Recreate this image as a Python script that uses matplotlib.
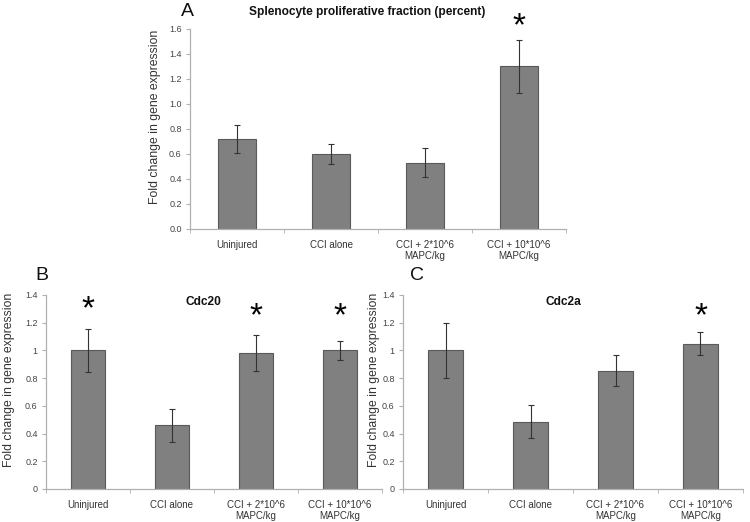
import matplotlib
matplotlib.use("Agg")
import matplotlib.pyplot as plt
from matplotlib import font_manager
import numpy as np

plt.rcParams['font.family'] = ['Liberation Sans', 'DejaVu Sans']

categories = ["Uninjured", "CCI alone", "CCI + 2*10^6\nMAPC/kg", "CCI + 10*10^6\nMAPC/kg"]

a_values = [0.72, 0.60, 0.53, 1.30]
a_errors = [0.115, 0.08, 0.115, 0.21]
a_star = [False, False, False, True]

b_values = [1.00, 0.46, 0.98, 1.00]
b_errors = [0.155, 0.12, 0.13, 0.07]
b_star = [True, False, True, True]

c_values = [1.00, 0.485, 0.855, 1.05]
c_errors = [0.20, 0.12, 0.115, 0.085]
c_star = [False, False, False, True]

a_ticks = [0.0, 0.2, 0.4, 0.6, 0.8, 1.0, 1.2, 1.4, 1.6]
a_ticklabels = ["0.0", "0.2", "0.4", "0.6", "0.8", "1.0", "1.2", "1.4", "1.6"]
bc_ticks = [0, 0.2, 0.4, 0.6, 0.8, 1.0, 1.2, 1.4]
bc_ticklabels = ["0", "0.2", "0.4", "0.6", "0.8", "1", "1.2", "1.4"]

ylabel = "Fold change in gene expression"

installed = {f.name for f in font_manager.fontManager.ttflist}
if "Liberation Sans Narrow" in installed:
    label_font = dict(family=["Liberation Sans Narrow", "Liberation Sans"], fontsize=10.5)
else:
    label_font = dict(family=["Liberation Sans", "DejaVu Sans"], fontsize=8.8)

W, H = 750, 522
fig = plt.figure(figsize=(W / 100, H / 100), dpi=100)


def px_axes(x0, x1, ytop, ybot):
    return fig.add_axes([x0 / W, 1 - ybot / H, (x1 - x0) / W, (ybot - ytop) / H])


def draw(ax, values, errors, stars, ticks, ticklabels, ymax, star_y, label_x_px, title, title_xy, letter, letter_xy):
    x = np.arange(len(categories))
    ax.bar(x, values, width=0.41, color="#808080", edgecolor="#5a5a5a", linewidth=0.8, zorder=2)
    ax.errorbar(x, values, yerr=errors, fmt="none", ecolor="#333333", elinewidth=0.8,
                capsize=2.2, capthick=0.8, zorder=3)
    for xi, s, sy in zip(x, stars, star_y):
        if s:
            ax.text(xi, sy, "*", ha="center", va="center", fontsize=24, color="black", clip_on=False)
    ax.set_xlim(-0.5, len(categories) - 0.5)
    ax.set_ylim(0, ymax)
    ax.set_yticks(ticks)
    ax.set_yticklabels(ticklabels)
    ax.set_xticks(x)
    ax.set_xticklabels(categories, fontsize=7, color="#333333", linespacing=1.05)
    ax.set_xticks(np.arange(len(categories) + 1) - 0.5, minor=True)
    ax.tick_params(axis="x", which="major", length=0, pad=8)
    ax.tick_params(axis="x", which="minor", length=3, color="#b0b0b0", direction="out")
    ax.tick_params(axis="y", length=3, color="#b0b0b0", direction="out", labelsize=6.5,
                   labelcolor="#444444", pad=3)
    for sp in ["top", "right"]:
        ax.spines[sp].set_visible(False)
    for sp in ["left", "bottom"]:
        ax.spines[sp].set_color("#b0b0b0")
        ax.spines[sp].set_linewidth(0.9)
    ax.set_ylabel(ylabel, color="#333333", **label_font)
    bbox = ax.get_position()
    ax.yaxis.set_label_coords((label_x_px / W - bbox.x0) / bbox.width, 0.56)
    fig.text(title_xy[0] / W, 1 - title_xy[1] / H, title, ha="center", va="center",
             fontsize=8.6, fontweight="bold", color="#111111")
    fig.text(letter_xy[0] / W, 1 - letter_xy[1] / H, letter, ha="center", va="center",
             fontsize=14, color="#111111")


axA = px_axes(190, 566, 29, 229)
draw(axA, a_values, a_errors, a_star, a_ticks, a_ticklabels, 1.6, [1.62, 1.62, 1.62, 1.62], 161,
     "Splenocyte proliferative fraction (percent)", (367, 12), "A", (187, 12))

axB = px_axes(46, 382, 295, 489)
draw(axB, b_values, b_errors, b_star, bc_ticks, bc_ticklabels, 1.4, [1.29, 1.29, 1.24, 1.24], 15,
     "Cdc20", (203, 302), "B", (42, 276))

axC = px_axes(403, 743, 295, 489)
draw(axC, c_values, c_errors, c_star, bc_ticks, bc_ticklabels, 1.4, [1.24, 1.24, 1.24, 1.24], 380,
     "Cdc2a", (563, 302), "C", (417, 275))

fig.savefig("out.png", dpi=100)
